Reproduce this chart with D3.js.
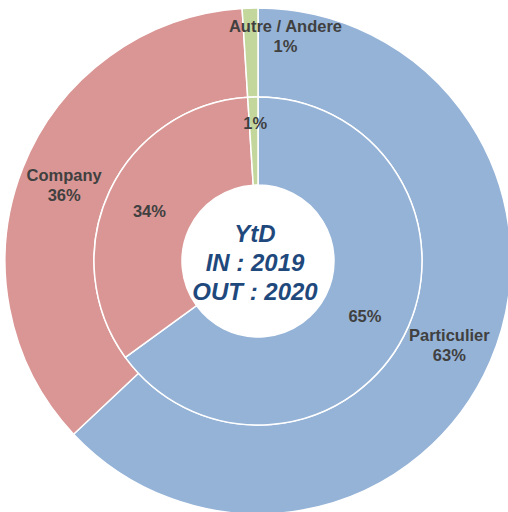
<!DOCTYPE html>
<html lang="en">
<head>
    <meta charset="UTF-8">
    <script src="https://cdn.jsdelivr.net/npm/d3@7"></script>
    <title>YtD donut</title>
    <style>
        body { margin: 0; background: #fff; }
        svg text { font-family: 'Liberation Sans', Arial, sans-serif; }
    </style>
</head>
<body>
<div id="chart"></div>
<script>
    // categories in drawing order (clockwise from 12 o'clock)
    const categories = ["Particulier", "Company", "Autre / Andere"];
    const colors = ["#95b3d7", "#d99694", "#c3d69b"];
    // outer ring = OUT 2020, inner ring = IN 2019
    const outerValues = [63, 36, 1];
    const innerValues = [65, 34, 1];
    const centerLines = ["YtD", "IN : 2019", "OUT : 2020"];

    const width = 508, height = 512;
    const cx = 258, cy = 261;
    const rHole = 76, rMid = 164, rOuter = 253;

    const svg = d3.select("#chart").append("svg")
        .attr("width", width)
        .attr("height", height);
    const g = svg.append("g").attr("transform", `translate(${cx},${cy})`);

    const pie = d3.pie().sort(null).value(d => d);

    const drawRing = (values, r0, r1) => {
        const arc = d3.arc().innerRadius(r0).outerRadius(r1);
        const arcs = pie(values);
        g.append("g").selectAll("path")
            .data(arcs)
            .enter()
            .append("path")
            .attr("d", arc)
            .attr("fill", (d, i) => colors[i])
            .attr("stroke", "#fff")
            .attr("stroke-width", 1.5);
        return {arc, arcs};
    };

    const outer = drawRing(outerValues, rMid, rOuter);
    const inner = drawRing(innerValues, rHole, rMid);

    const labelStyle = sel => sel
        .attr("text-anchor", "middle")
        .attr("font-size", 16.5)
        .attr("font-weight", "bold")
        .attr("fill", "#404040");

    // outer labels: category + percent
    outer.arcs.forEach((d, i) => {
        let [x, y] = outer.arc.centroid(d);
        if (i === 2) { x += 34; y -= 18; } // small slice: label pushed right/up
        const t = g.append("text").call(labelStyle)
            .attr("x", x).attr("y", y - 3);
        t.append("tspan").attr("x", x).text(categories[i]);
        t.append("tspan").attr("x", x).attr("dy", 20).text(d3.format(".0f")(outerValues[i]) + "%");
    });

    // inner labels: percent only
    inner.arcs.forEach((d, i) => {
        let [x, y] = inner.arc.centroid(d);
        if (i === 2) { y -= 19; x += 1; }
        g.append("text").call(labelStyle)
            .attr("x", x).attr("y", y + 7)
            .text(d3.format(".0f")(innerValues[i]) + "%");
    });

    // centre text
    g.selectAll(".center")
        .data(centerLines)
        .enter()
        .append("text")
        .attr("class", "center")
        .attr("text-anchor", "middle")
        .attr("x", -3)
        .attr("y", (d, i) => -19 + i * 29)
        .attr("font-size", 24)
        .attr("font-weight", "bold")
        .attr("font-style", "italic")
        .attr("fill", "#1f497d")
        .text(d => d);
</script>
</body>
</html>
